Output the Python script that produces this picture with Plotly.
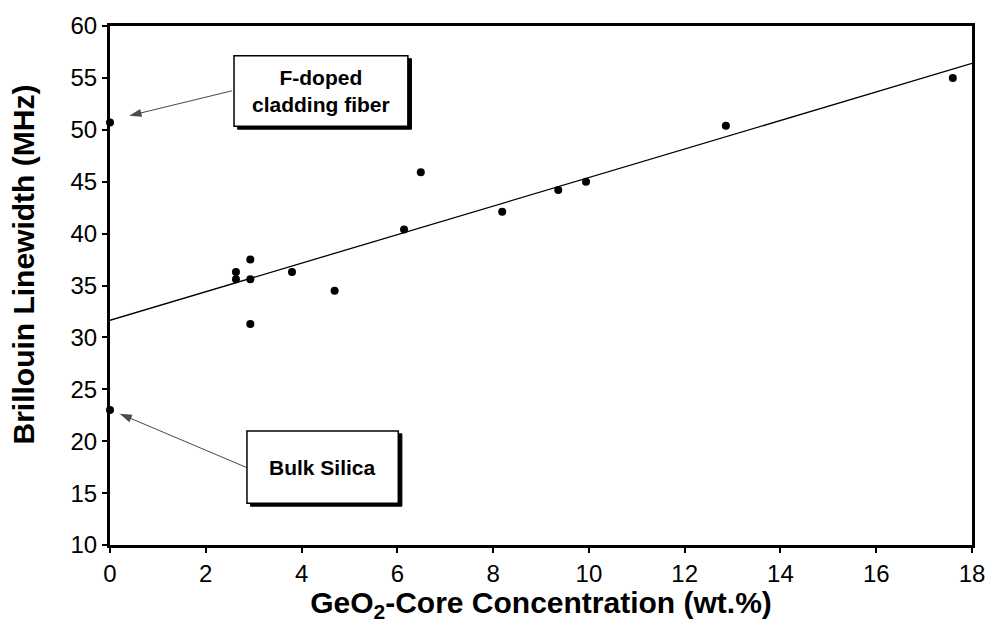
import plotly.graph_objects as go

# Data
geo2_wt = [0.0, 0.0, 2.63, 2.63, 2.93, 2.93, 2.93, 3.80, 4.69, 6.14, 6.49, 8.19, 9.36, 9.94, 12.86, 17.60]
linewidth_mhz = [50.7, 23.0, 36.3, 35.6, 37.5, 35.6, 31.3, 36.3, 34.5, 40.4, 45.9, 42.1, 44.2, 45.0, 50.4, 55.0]

fit_x = [0.0, 18.0]
fit_y = [31.65, 56.4]

x_ticks = [0, 2, 4, 6, 8, 10, 12, 14, 16, 18]
y_ticks = [10, 15, 20, 25, 30, 35, 40, 45, 50, 55, 60]

# Callout boxes and their pointer arrows (tail -> head), in data units
box_labels = ["F-doped<br>cladding fiber", "Bulk Silica"]
box_x0 = [2.59, 2.86]
box_x1 = [6.22, 6.02]
box_y0 = [50.34, 14.02]
box_y1 = [57.13, 20.99]
arrow_x = [[2.55, 0.40], [2.84, 0.20]]
arrow_y = [[53.76, 51.35], [17.49, 22.65]]

FONT = "Liberation Sans, Arial, Helvetica, sans-serif"

fig = go.Figure()
fig.add_trace(go.Scatter(x=fit_x, y=fit_y, mode="lines",
                         line=dict(color="black", width=1.3),
                         showlegend=False, hoverinfo="skip"))
fig.add_trace(go.Scatter(x=geo2_wt, y=linewidth_mhz, mode="markers",
                         marker=dict(color="black", size=8),
                         showlegend=False, cliponaxis=False))

for ax_, ay_ in zip(arrow_x, arrow_y):
    fig.add_trace(go.Scatter(x=ax_, y=ay_, mode="lines+markers",
                             line=dict(color="#333333", width=0.9),
                             marker=dict(symbol="arrow", size=[0, 13], angleref="previous",
                                         color="black", line=dict(width=0)),
                             showlegend=False, hoverinfo="skip"))

dx, dy = 0.075, 0.28
for lab, x0, x1, y0, y1 in zip(box_labels, box_x0, box_x1, box_y0, box_y1):
    fig.add_shape(type="rect", xref="x", yref="y",
                  x0=x0 + dx, x1=x1 + dx, y0=y0 - dy, y1=y1 - dy,
                  fillcolor="black", line=dict(color="black", width=1), layer="above")
    fig.add_shape(type="rect", xref="x", yref="y",
                  x0=x0, x1=x1, y0=y0, y1=y1,
                  fillcolor="white", line=dict(color="black", width=1.5), layer="above")
    fig.add_annotation(x=(x0 + x1) / 2, y=(y0 + y1) / 2,
                       xref="x", yref="y", text="<b>" + lab + "</b>",
                       showarrow=False, font=dict(family=FONT, size=21, color="black"))

# Y-axis title (placed as rotated text, slightly above the plot centre as in the reference)
fig.add_annotation(x=-0.1, y=0.54, xref="paper", yref="paper",
                   text="<b>Brillouin Linewidth (MHz)</b>", textangle=-90,
                   showarrow=False, xanchor="center", yanchor="middle",
                   font=dict(family=FONT, size=30, color="black"))

fig.update_layout(
    width=997, height=623,
    margin=dict(l=110, r=20, t=22, b=78),
    paper_bgcolor="white", plot_bgcolor="white",
    font=dict(family=FONT, color="black"),
    xaxis=dict(range=[0, 18], tickvals=x_ticks, ticks="outside", ticklen=5, tickwidth=1.5,
               tickcolor="black", showline=True, linecolor="black", linewidth=3, mirror=True,
               showgrid=False, zeroline=False, tickfont=dict(size=24),
               title=dict(text="<b>GeO<sub>2</sub>-Core Concentration (wt.%)</b>",
                          font=dict(size=30), standoff=2)),
    yaxis=dict(range=[10, 60], tickvals=y_ticks, ticks="outside", ticklen=5, tickwidth=1.5,
               tickcolor="black", showline=True, linecolor="black", linewidth=3, mirror=True,
               showgrid=False, zeroline=False, tickfont=dict(size=24)),
)

fig.write_html("out.html")
